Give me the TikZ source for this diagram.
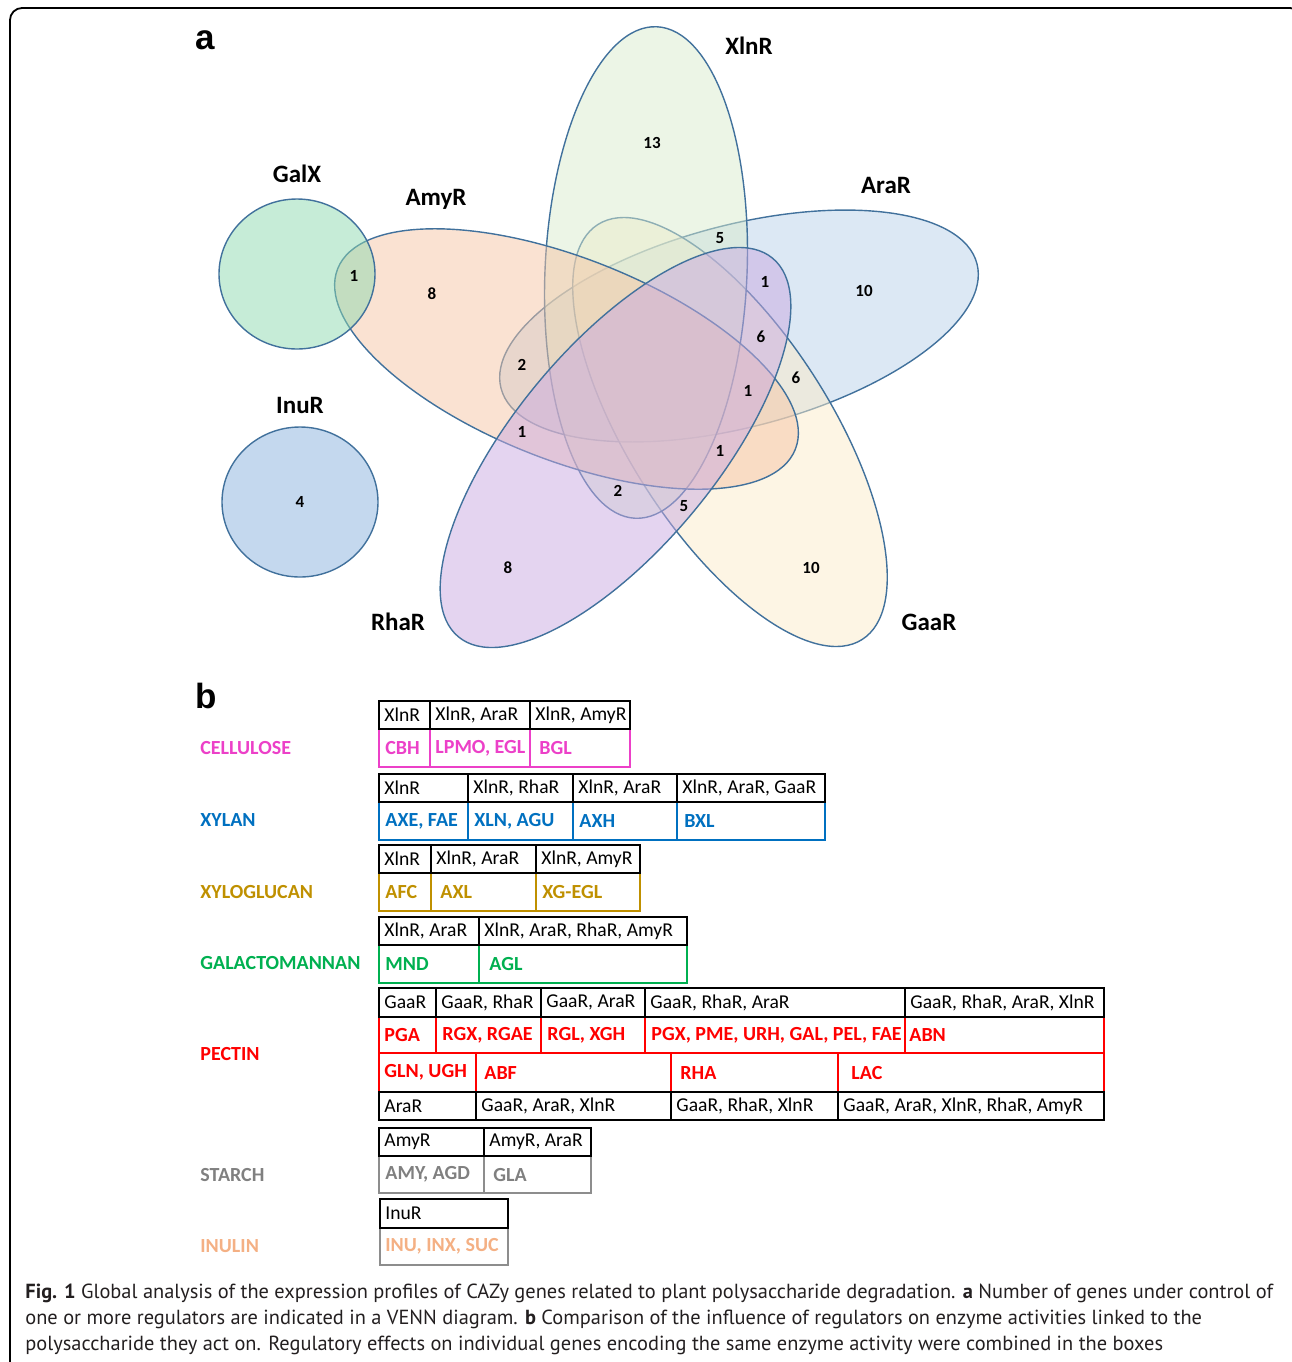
\documentclass[tikz,border=0pt]{standalone}
\usepackage{fontspec}
\setmainfont{Carlito}
\newfontfamily\captionfont{PT Sans}
\newfontfamily\panelfont{Liberation Sans}

\definecolor{vennline}{RGB}{65,113,156}
\definecolor{xlnfill}{RGB}{217,235,205}
\definecolor{arafill}{RGB}{185,209,233}
\definecolor{gaafill}{RGB}{251,235,201}
\definecolor{rhafill}{RGB}{201,169,225}
\definecolor{amyfill}{RGB}{245,197,165}
\definecolor{galxfill}{RGB}{141,217,175}
\definecolor{inufill}{RGB}{137,177,221}
\definecolor{cellcol}{RGB}{236,64,200}
\definecolor{xylcol}{RGB}{0,112,192}
\definecolor{xglcol}{RGB}{191,144,0}
\definecolor{galcol}{RGB}{0,176,80}
\definecolor{pectcol}{RGB}{255,0,0}
\definecolor{starchcol}{RGB}{128,128,128}
\definecolor{inucol}{RGB}{244,176,132}
\definecolor{captcol}{RGB}{35,31,32}

% one row of regulator boxes: name, top, bottom, cells x1/x2/text
\newcommand{\hdrrow}[4]{%
  \foreach \xa/\xb/\txt [count=\i] in {#4} {
    \draw[hdrbox] (\xa,#2) rectangle (\xb,#3);
    \node[hdrtext] (#1\i) at ({\xa+5},{(#2+#3)/2}) {\txt};
  }}
% one row of enzyme boxes: name, colour, top, bottom, cells x1/x2/xtext/text
\newcommand{\enzrow}[6]{%
  \foreach \xa/\xb/\xt/\txt [count=\i] in {#6} {
    \draw[enzbox, draw=#3] (\xa,#4) rectangle (\xb,#5);
    \node[enztext, text=#2] (#1\i) at (\xt,{(#4+#5)/2}) {\txt};
  }}

\begin{document}
\begin{tikzpicture}[x=0.5pt, y=-0.5pt,
  venn/.style={draw=vennline, line width=0.7pt, fill opacity=0.5},
  setname/.style={font=\fontsize{12.5}{14}\selectfont\bfseries},
  count/.style={font=\fontsize{8.5}{10}\selectfont\bfseries},
  panel/.style={font=\panelfont\bfseries\fontsize{17.5}{20}\selectfont},
  hdrbox/.style={draw=black, line width=1.4pt},
  enzbox/.style={line width=1.1pt},
  hdrtext/.style={anchor=west, inner sep=0pt, font=\fontsize{9.8}{12}\selectfont},
  enztext/.style={anchor=west, inner sep=0pt, font=\fontsize{10}{12}\selectfont\bfseries},
  polyname/.style={anchor=west, inner sep=0pt, font=\fontsize{10}{12}\selectfont\bfseries},
  captext/.style={anchor=west, inner sep=0pt, text=captcol, font=\captionfont\fontsize{10.2}{12}\selectfont}]
  \useasboundingbox (0,0) rectangle (1292,1362);
  \clip (0,0) rectangle (1292,1362);
  \draw[line width=0.9pt, rounded corners=6pt] (10,8) rectangle (1302,1390);

  % panel a: venn diagram
  \node[panel] (pa) at (205,40) {a};
  \foreach \cx/\cy/\ang/\col in {739/326/14.7/arafill, 730/432/-57.5/gaafill,
      646/272.5/87.5/xlnfill, 566.5/359/-21.5/amyfill, 615.5/447.5/50.3/rhafill}
    \draw[venn, fill=\col, rotate around={\ang:(\cx,\cy)}] (\cx,\cy) ellipse [x radius=246, y radius=101];
  \draw[venn, fill=galxfill] (297,274) ellipse [x radius=78, y radius=75];
  \draw[venn, fill=inufill] (300,502) ellipse [x radius=78, y radius=75];

  \node[setname] (xlnr) at (749,46) {XlnR};
  \node[setname] (arar) at (886,185) {AraR};
  \node[setname] (gaar) at (929,622) {GaaR};
  \node[setname] (rhar) at (398,622) {RhaR};
  \node[setname] (amyr) at (436,199) {AmyR};
  \node[setname] (galx) at (297,174) {GalX};
  \node[setname] (inur) at (300,405) {InuR};

  \foreach \px/\py/\n [count=\k] in {652/143/13, 354/276/1, 432/294/8, 864/291/10,
      720/238/5, 765/282/1, 761/337/6, 796/378/6, 522/365/2, 748/391/1, 522/432/1,
      720/451/1, 618/491/2, 684/506/5, 508/568/8, 811/568/10, 300/502/4}
    \node[count] (n\k) at (\px,\py) {\n};

  % panel b: regulators per polysaccharide
  \node[panel] (pb) at (206,696) {b};

  \node[polyname, text=cellcol] (cellulose) at (200,748) {CELLULOSE};
  \enzrow{cel}{cellcol}{cellcol}{729}{767}{379/430/385/CBH, {430/530/435/LPMO, EGL}, 530/630/539/BGL}
  \hdrrow{celr}{701}{729}{379/430/XlnR, {430/530/XlnR, AraR}, {530/630/XlnR, AmyR}}

  \node[polyname, text=xylcol] (xylan) at (200,820) {XYLAN};
  \enzrow{xyl}{xylcol}{xylcol}{802}{840}{{379/468/385/AXE, FAE}, {468/573/474/XLN, AGU}, 573/677/579/AXH, 677/825/684/BXL}
  \hdrrow{xylr}{774}{802}{379/468/XlnR, {468/573/XlnR, RhaR}, {573/677/XlnR, AraR}, {677/825/XlnR, AraR, GaaR}}

  \node[polyname, text=xglcol] (xyloglucan) at (200,892) {XYLOGLUCAN};
  \enzrow{xgl}{xglcol}{xglcol}{873}{911}{379/431/385/AFC, 431/536/440/AXL, 536/640/542/XG-EGL}
  \hdrrow{xglr}{845}{873}{379/431/XlnR, {431/536/XlnR, AraR}, {536/640/XlnR, AmyR}}

  \node[polyname, text=galcol] (galactomannan) at (200,963) {GALACTOMANNAN};
  \enzrow{gal}{galcol}{galcol}{945}{983}{379/479/385/MND, 479/687/489/AGL}
  \hdrrow{galr}{917}{945}{{379/479/XlnR, AraR}, {479/687/XlnR, AraR, RhaR, AmyR}}

  \node[polyname, text=pectcol] (pectin) at (200,1054) {PECTIN};
  \enzrow{pecta}{pectcol}{pectcol}{1017}{1053}{379/436/384/PGA, {436/541/442/RGX, RGAE}, {541/645/547/RGL, XGH},
      {645/905/651/PGX, PME, URH, GAL, PEL, FAE}, 905/1104/909/ABN}
  \enzrow{pectb}{pectcol}{pectcol}{1053}{1092}{{379/476/384/GLN, UGH}, 476/671/484/ABF, 671/838/680/RHA, 838/1104/851/LAC}
  \hdrrow{pectra}{988}{1017}{379/436/GaaR, {436/541/GaaR, RhaR}, {541/645/GaaR, AraR}, {645/905/GaaR, RhaR, AraR},
      {905/1104/GaaR, RhaR, AraR, XlnR}}
  \hdrrow{pectrb}{1092}{1120}{379/476/AraR, {476/671/GaaR, AraR, XlnR}, {671/838/GaaR, RhaR, XlnR},
      {838/1104/GaaR, AraR, XlnR, RhaR, AmyR}}

  \node[polyname, text=starchcol] (starch) at (200,1175) {STARCH};
  \enzrow{sta}{starchcol}{starchcol!90}{1156}{1193}{{379/484/385/AMY, AGD}, 484/591/493/GLA}
  \hdrrow{star}{1128}{1156}{379/484/AmyR, {484/591/AmyR, AraR}}

  \node[polyname, text=inucol] (inulin) at (200,1246) {INULIN};
  \enzrow{inu}{inucol}{starchcol!90}{1228}{1265}{{380/508/385/INU, INX, SUC}}
  \hdrrow{inur}{1199}{1228}{380/508/InuR}

  % caption
  \node[captext] (cap1) at (25,1293) {\textbf{Fig. 1} Global analysis of the expression profiles of CAZy genes related to plant polysaccharide degradation. \textbf{a} Number of genes under control of};
  \node[captext] (cap2) at (25,1319) {one or more regulators are indicated in a VENN diagram. \textbf{b} Comparison of the influence of regulators on enzyme activities linked to the};
  \node[captext] (cap3) at (25,1345) {polysaccharide they act on. Regulatory effects on individual genes encoding the same enzyme activity were combined in the boxes};
\end{tikzpicture}
\end{document}
